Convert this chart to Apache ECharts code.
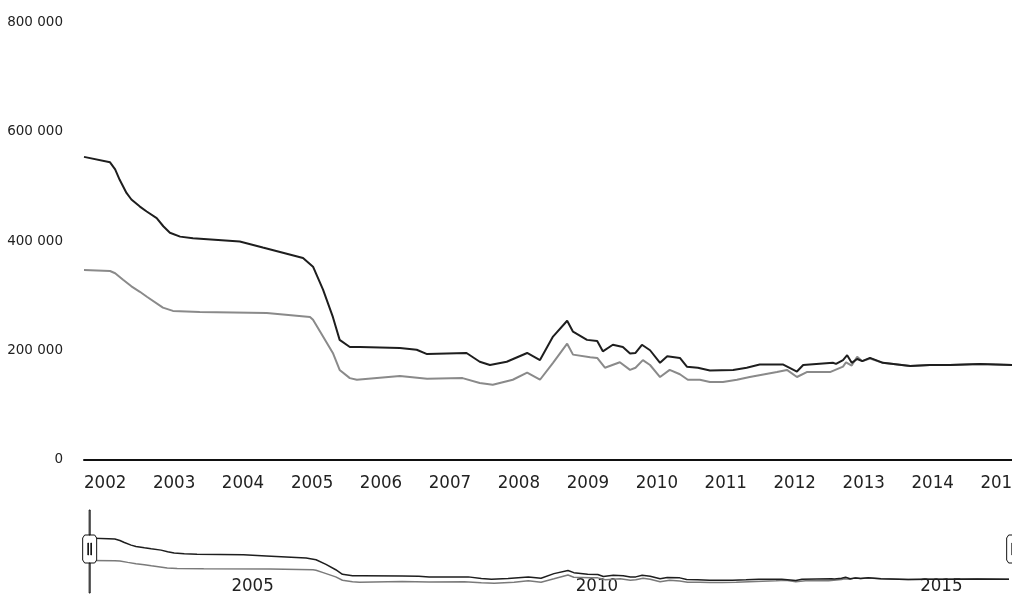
<!DOCTYPE html>
<html>
<head>
<meta charset="utf-8">
<script src="https://cdn.jsdelivr.net/npm/echarts@6/dist/echarts.min.js"></script>
<style>
html,body{margin:0;padding:0;background:#fff;}
#chart{width:1012px;height:595px;}
</style>
</head>
<body>
<div id="chart"></div>
<script>
// ---- data ----
const yTicks = [0, 200000, 400000, 600000, 800000];
const navLabelYears = [2005, 2010, 2015];

const blackDates = ['2001-09-11','2002-01-27','2002-02-23','2002-03-19','2002-04-24','2002-05-20','2002-07-04','2002-08-09','2002-10-01','2002-11-05','2002-12-10','2003-02-02','2003-04-11','2003-12-15','2004-04-15','2004-11-14','2005-01-06','2005-02-28','2005-04-21','2005-05-27','2005-07-20','2005-09-12','2006-04-11','2006-07-09','2006-09-02','2007-03-30','2007-06-08','2007-08-01','2007-10-29','2008-02-14','2008-04-22','2008-06-30','2008-09-13','2008-10-14','2008-12-27','2009-02-19','2009-03-21','2009-05-13','2009-07-05','2009-08-12','2009-09-10','2009-10-14','2009-11-26','2010-01-18','2010-02-25','2010-05-03','2010-06-09','2010-08-06','2010-10-09','2011-02-09','2011-04-22','2011-06-30','2011-10-30','2012-01-13','2012-02-15','2012-07-21','2012-08-07','2012-09-13','2012-10-05','2012-10-29','2012-11-27','2012-12-24','2013-02-03','2013-04-12','2013-09-04','2013-12-17','2014-04-02','2014-09-08','2015-02-25'];
const blackValues = [554000,544000,531000,512000,488000,476000,463000,454000,442000,427000,415000,408000,405000,399000,388000,369000,353000,311000,261000,219000,206000,206000,204000,201000,193000,195000,179000,173000,179000,195000,182000,225000,254000,234000,219000,217000,198000,210000,206000,194000,195000,210000,200000,177000,189000,186000,170000,168000,163000,164000,168000,174000,174000,161000,173000,177000,175000,182000,191000,177000,184000,180000,186000,177000,171000,173000,173000,175000,173000];

const grayDates = ['2001-09-11','2002-01-27','2002-02-23','2002-04-06','2002-05-20','2002-07-04','2002-08-10','2002-11-03','2002-12-26','2003-05-17','2004-05-06','2004-12-21','2005-01-06','2005-02-13','2005-04-21','2005-05-27','2005-07-20','2005-08-26','2006-04-11','2006-09-02','2007-03-09','2007-06-08','2007-08-16','2007-11-30','2008-02-14','2008-04-22','2008-06-30','2008-09-13','2008-10-14','2009-01-13','2009-02-19','2009-04-01','2009-06-19','2009-08-12','2009-09-10','2009-10-19','2009-11-26','2010-01-18','2010-03-10','2010-05-03','2010-06-14','2010-08-17','2010-10-09','2010-12-17','2011-03-01','2011-05-08','2011-09-29','2011-11-21','2012-01-13','2012-03-05','2012-07-06','2012-09-13','2012-09-29','2012-10-29','2012-11-27','2012-12-24','2013-02-03','2013-04-12','2013-09-04','2013-12-17','2014-04-02','2014-09-08','2015-02-25'];
const grayValues = [347000,345000,341000,329000,317000,307000,298000,278000,272000,270000,268000,261000,256000,234000,195000,164000,149000,146000,153000,148000,149000,140000,137000,146000,159000,146000,177000,212000,192000,187000,186000,168000,178000,164000,168000,182000,173000,151000,164000,156000,146000,146000,142000,142000,146000,151000,160000,164000,151000,160000,160000,170000,178000,172000,188000,180000,185000,177000,171000,173000,173000,175000,173000];

const xStart = '2001-09-11', xEnd = '2015-02-25';
const navLabelStart = '2002-12-08', navLabelEnd = '2016-04-16';

// ---- build ----
const zip = (d, v) => d.map((x, i) => [x, v[i]]);
const blackData = zip(blackDates, blackValues);
const grayData = zip(grayDates, grayValues);

const YEAR = 365.25 * 24 * 3600 * 1000;
const narrow = "'DejaVu Sans Condensed', 'Liberation Sans Narrow', sans-serif";

function yearLabel(v) {
  const d = new Date(v);
  return (d.getMonth() === 0 && d.getDate() === 1) ? String(d.getFullYear()) : '';
}
function navYearLabel(v) {
  const d = new Date(v);
  const y = d.getFullYear();
  return (d.getMonth() === 0 && d.getDate() === 1 && navLabelYears.indexOf(y) >= 0) ? String(y) : '';
}
function fmtThousands(v) {
  return String(v).replace(/\B(?=(\d{3})+(?!\d))/g, ' ');
}

const handlePath = 'path://M7.5,0H8.5V30H7.5Z M7.5,58H8.5V83H7.5Z M3,30H13L15,33V55L13,58H3L1,55V33Z M6.2,38H6.8V50H6.2Z M9.2,38H9.8V50H9.2Z';

const chart = echarts.init(document.getElementById('chart'), null, {renderer: 'canvas'});
chart.setOption({
  backgroundColor: '#ffffff',
  animation: false,
  grid: [
    {left: 84, right: 0, top: 22.5, bottom: 135.5, containLabel: false, outerBoundsMode: 'none'},
    {left: 89, right: 3, top: 538, bottom: -3, containLabel: false, outerBoundsMode: 'none'}
  ],
  xAxis: [
    {
      type: 'time', gridIndex: 0, position: 'bottom', min: xStart, max: xEnd,
      splitNumber: 14, minInterval: YEAR, maxInterval: YEAR,
      axisLine: {show: true, lineStyle: {color: '#111', width: 2}},
      axisTick: {show: false},
      splitLine: {show: false},
      axisLabel: {
        formatter: yearLabel, color: '#222', fontFamily: narrow, fontSize: 18.5,
        margin: 14, hideOverlap: false
      }
    },
    {
      type: 'time', gridIndex: 1, position: 'bottom', min: xStart, max: xEnd, show: false
    },
    {
      type: 'time', gridIndex: 1, position: 'bottom', min: navLabelStart, max: navLabelEnd,
      splitNumber: 14, minInterval: YEAR, maxInterval: YEAR,
      axisLine: {show: false}, axisTick: {show: false}, splitLine: {show: false},
      axisLabel: {
        inside: true, formatter: navYearLabel, color: '#222', fontFamily: narrow,
        fontSize: 18.5, align: 'left', margin: 2, hideOverlap: false
      }
    },
    {
      type: 'value', gridIndex: 1, position: 'top', min: 0, max: 100, show: false
    }
  ],
  yAxis: [
    {
      type: 'value', gridIndex: 0, min: yTicks[0], max: yTicks[yTicks.length - 1],
      interval: yTicks[1] - yTicks[0],
      axisLine: {show: false}, axisTick: {show: false}, splitLine: {show: false},
      axisLabel: {
        formatter: fmtThousands, color: '#222', fontFamily: "'DejaVu Sans', sans-serif",
        fontSize: 13.5, margin: 21
      }
    },
    {
      type: 'value', gridIndex: 1, min: 0, max: 'dataMax', show: false
    }
  ],
  dataZoom: [{
    type: 'slider', xAxisIndex: 3, start: 0, end: 100, filterMode: 'none',
    left: 88, right: -2, top: 510, height: 83,
    backgroundColor: 'rgba(0,0,0,0)', borderColor: 'rgba(0,0,0,0)',
    fillerColor: 'rgba(0,0,0,0)', showDataShadow: false, showDetail: false,
    dataBackground: {lineStyle: {opacity: 0}, areaStyle: {opacity: 0}},
    selectedDataBackground: {lineStyle: {opacity: 0}, areaStyle: {opacity: 0}},
    handleIcon: handlePath, handleSize: '100%',
    handleStyle: {color: '#fff', borderColor: '#111', borderWidth: 1},
    moveHandleSize: 0, moveHandleStyle: {opacity: 0},
    brushSelect: false, zoomLock: true,
    emphasis: {handleStyle: {color: '#fff', borderColor: '#111'}}
  }],
  series: [
    {
      name: 'gray', type: 'line', xAxisIndex: 0, yAxisIndex: 0, data: grayData,
      showSymbol: false, lineStyle: {color: '#8a8a8a', width: 2}, z: 2
    },
    {
      name: 'black', type: 'line', xAxisIndex: 0, yAxisIndex: 0, data: blackData,
      showSymbol: false, lineStyle: {color: '#1e1e1e', width: 2}, z: 3
    },
    {
      name: 'navGray', type: 'line', xAxisIndex: 1, yAxisIndex: 1, data: grayData,
      showSymbol: false, lineStyle: {color: '#7a7a7a', width: 1.5}, z: 2
    },
    {
      name: 'navBlack', type: 'line', xAxisIndex: 1, yAxisIndex: 1, data: blackData,
      showSymbol: false, lineStyle: {color: '#1e1e1e', width: 1.5}, z: 3
    }
  ]
});
</script>
</body>
</html>
